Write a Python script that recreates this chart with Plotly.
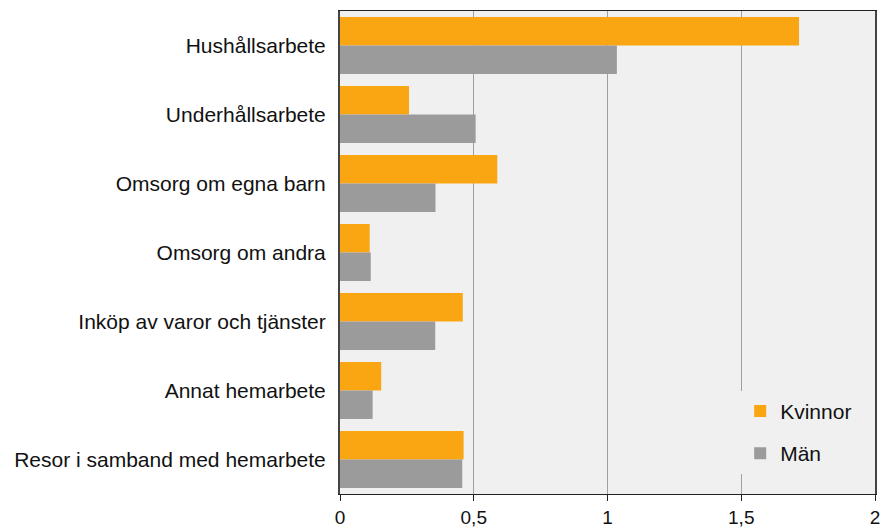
import plotly.graph_objects as go

# Time spent on household work, hours per day
categories = [
    "Hushållsarbete",
    "Underhållsarbete",
    "Omsorg om egna barn",
    "Omsorg om andra",
    "Inköp av varor och tjänster",
    "Annat hemarbete",
    "Resor i samband med hemarbete",
]
kvinnor = [1.716, 0.258, 0.588, 0.111, 0.459, 0.154, 0.462]
man = [1.035, 0.507, 0.357, 0.115, 0.356, 0.122, 0.457]

tick_vals = [0, 0.5, 1, 1.5, 2]
tick_text = ["0", "0,5", "1", "1,5", "2"]

ORANGE = "#FAA612"
GRAY = "#9B9B9B"
FONT = "Liberation Sans, Arial, sans-serif"

fig = go.Figure()
fig.add_trace(go.Bar(
    y=categories, x=kvinnor, orientation="h", name="Kvinnor",
    marker=dict(color=ORANGE, line=dict(width=0)), legendgroup="k",
))
fig.add_trace(go.Bar(
    y=categories, x=man, orientation="h", name="Män",
    marker=dict(color=GRAY, line=dict(width=0)), legendgroup="m",
))

fig.update_layout(
    width=884, height=529,
    margin=dict(l=340, r=9, t=11, b=35),
    paper_bgcolor="white",
    plot_bgcolor="#F0F0F0",
    barmode="group",
    bargap=0.174,
    bargroupgap=0,
    font=dict(family=FONT, size=21, color="#111111"),
    xaxis=dict(
        range=[0, 2],
        tickvals=tick_vals,
        ticktext=tick_text,
        showgrid=True, gridcolor="#A0A0A0", gridwidth=1,
        showline=True, linecolor="#222222", linewidth=1, mirror=True,
        ticks="outside", ticklen=6, tickcolor="#222222",
        ticklabelstandoff=0,
        zeroline=False,
        automargin=False,
        tickfont=dict(size=19),
        fixedrange=True,
    ),
    yaxis=dict(
        autorange="reversed",
        showgrid=False,
        showline=True, linecolor="#444444", linewidth=2, mirror=True,
        ticks="", ticklabelstandoff=8,
        automargin=False,
        tickfont=dict(size=21),
        fixedrange=True,
    ),
    legend=dict(
        x=0.748, y=0.2136, xanchor="left", yanchor="top",
        bgcolor="#F0F0F0",
        font=dict(size=21),
        traceorder="grouped",
        tracegroupgap=12,
        itemwidth=30,
    ),
    showlegend=True,
)

fig.write_html("out.html")
